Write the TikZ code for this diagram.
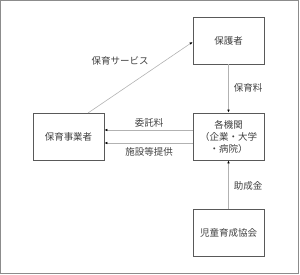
\documentclass[tikz,border=0pt]{standalone}
\usepackage{fontspec}
\setmainfont{Noto Sans CJK JP}
\usetikzlibrary{arrows.meta}
\begin{document}
\begin{tikzpicture}[x=1pt,y=1pt,
  box/.style={draw=black!65,line width=0.8pt,minimum width=71pt,minimum height=47pt,inner sep=1pt,font=\fontsize{9.5}{12}\selectfont,text=black!75,align=center},
  conn/.style={draw=black!30,line width=0.6pt,-{Latex[length=3pt,width=2.6pt,black]}},
  lab/.style={font=\fontsize{9.5}{12}\selectfont,text=black!75}]
\useasboundingbox (0,0) rectangle (300,274);
\draw[black!45,line width=0.8pt] (0.4,0.8) rectangle (298.6,273.6);
\node[box] (hogo) at (228.5,233.5) {保護者};
\node[box] (jigyo) at (68.5,137.5) {保育事業者};
\node[box] (kikan) at (228.5,137.5) {各機関\\（企業・大学\\・病院）};
\node[box] (kyokai) at (228.5,41.5) {児童育成協会};
\coordinate (d0) at (88,161);
\draw[conn] (d0) -- (hogo.west |- 0,232);
\draw[conn] (hogo.south) -- (kikan.north);
\draw[conn] (kyokai.north) -- (kikan.south);
\draw[conn] (kikan.west |- 0,144) -- (jigyo.east |- 0,144);
\draw[conn] (kikan.west |- 0,131) -- (jigyo.east |- 0,131);
\node[lab] at (120,213) {保育サービス};
\node[lab] at (248,186) {保育料};
\node[lab] at (248,88) {助成金};
\node[lab] at (149,151) {委託料};
\node[lab] at (149,122) {施設等提供};
\end{tikzpicture}
\end{document}
